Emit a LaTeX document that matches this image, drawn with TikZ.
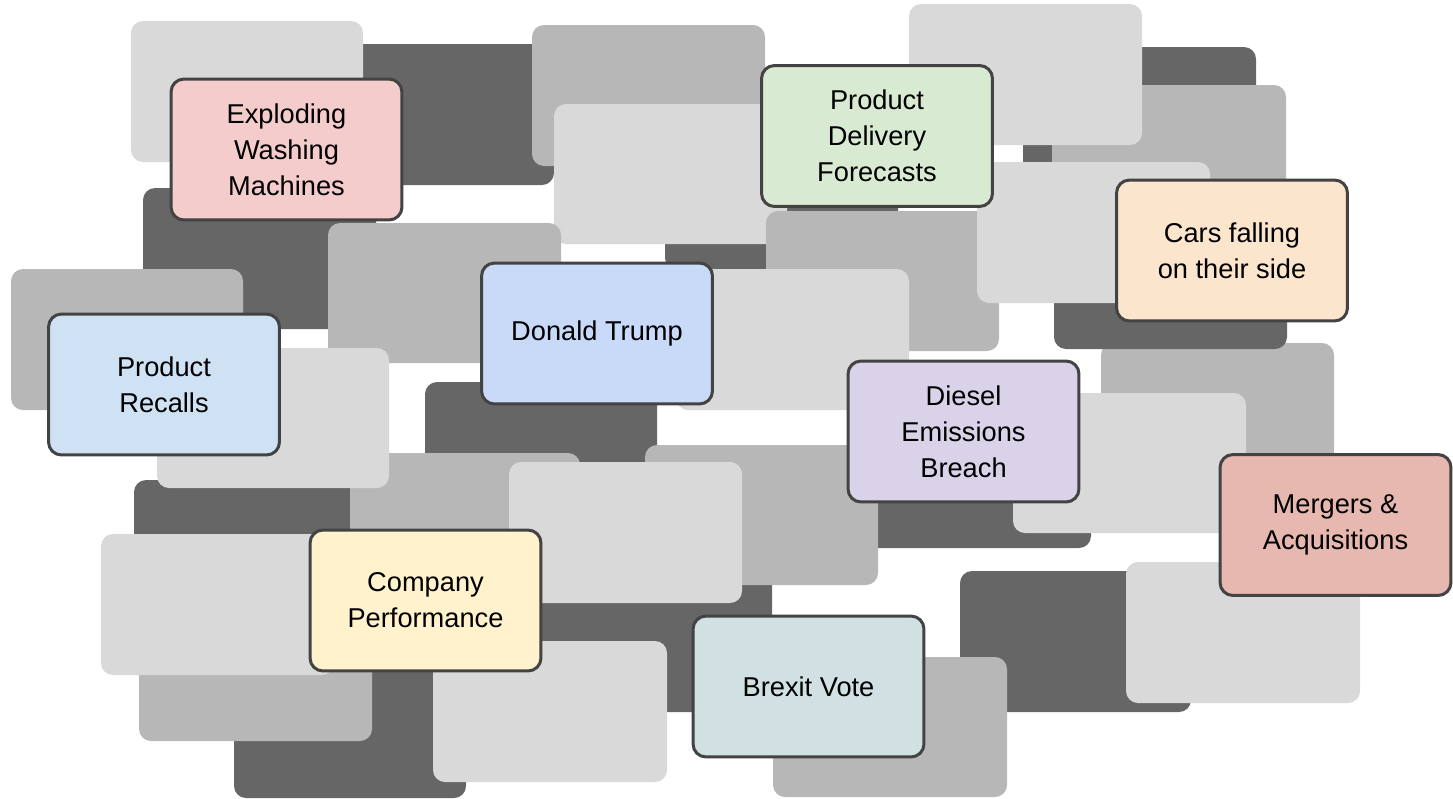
\documentclass[tikz,border=0pt]{standalone}
\usepackage{fontspec}
\setmainfont{Liberation Sans}
\usepackage{tikz}
\usepackage{xcolor}
\usetikzlibrary{positioning}
\definecolor{LightBox}{HTML}{D9D9D9}
\definecolor{MidBox}{HTML}{B7B7B7}
\definecolor{DarkBox}{HTML}{666666}
\definecolor{EdgeGray}{HTML}{434343}
\definecolor{PinkFill}{HTML}{F4CCCC}
\definecolor{GreenFill}{HTML}{D9EAD3}
\definecolor{OrangeFill}{HTML}{FCE5CD}
\definecolor{BlueFill}{HTML}{C9DAF8}
\definecolor{SkyFill}{HTML}{CFE2F3}
\definecolor{PurpleFill}{HTML}{D9D2E9}
\definecolor{RedFill}{HTML}{E6B8AF}
\definecolor{YellowFill}{HTML}{FFF2CC}
\definecolor{TealFill}{HTML}{D0E0E3}

\begin{document}
\begin{tikzpicture}[x=0.02cm, y=-0.02cm,
    lightbox/.style={fill=LightBox, rounded corners=0.24cm},
    midbox/.style={fill=MidBox, rounded corners=0.24cm},
    darkbox/.style={fill=DarkBox, rounded corners=0.24cm},
    topic/.style={draw=EdgeGray, line width=0.06cm, rounded corners=0.26cm,
      minimum width=4.62cm, minimum height=2.82cm, inner sep=0pt,
      align=center, font=\fontsize{15.5}{20.5}\selectfont}]
        \useasboundingbox (0,0) rectangle (1453,798);
        % back layer of grey cards, upper half
        \fill[darkbox] (321,44) rectangle (554,185);
        \fill[lightbox] (131,21) rectangle (363,162);
        \fill[midbox] (532,25) rectangle (765,166);
        \fill[darkbox] (665,129) rectangle (898,270);
        \fill[lightbox] (554,104) rectangle (787,244);
        \fill[midbox] (766,211) rectangle (999,351);
        \fill[lightbox] (676,269) rectangle (909,410);
        \fill[darkbox] (1023,47) rectangle (1256,188);
        \fill[midbox] (1052,85) rectangle (1286,226);
        \fill[lightbox] (909,4) rectangle (1142,145);
        \fill[midbox] (1101,343) rectangle (1334,484);
        \fill[darkbox] (1054,208) rectangle (1287,349);
        \fill[lightbox] (977,162) rectangle (1210,303);
        \fill[darkbox] (858,408) rectangle (1091,548);
        \fill[lightbox] (1013,393) rectangle (1246,533);
        \fill[darkbox] (143,188) rectangle (376,329);
        \fill[midbox] (328,223) rectangle (561,363);
        \fill[midbox] (11,269) rectangle (243,410);
        % lower half
        \fill[darkbox] (425,382) rectangle (657,523);
        \fill[darkbox] (134,480) rectangle (367,620);
        \fill[midbox] (350,453) rectangle (580,593);
        \fill[lightbox] (157,348) rectangle (389,488);
        \fill[darkbox] (539,571) rectangle (772,712);
        \fill[midbox] (645,445) rectangle (878,585);
        \fill[lightbox] (509,462) rectangle (742,603);
        \fill[darkbox] (234,657) rectangle (466,798);
        \fill[midbox] (139,600) rectangle (372,741);
        \fill[lightbox] (101,534) rectangle (334,675);
        \fill[lightbox] (433,641) rectangle (667,782);
        \fill[darkbox] (960,571) rectangle (1191,712);
        \fill[midbox] (773,657) rectangle (1007,797);
        \fill[lightbox] (1126,562) rectangle (1360,703);
        % topics
        \node[topic, fill=PinkFill] (washers) at (286.5,149.5) {Exploding\\Washing\\Machines};
        \node[topic, fill=GreenFill] (delivery) at (877,136) {Product\\Delivery\\Forecasts};
        \node[topic, fill=OrangeFill] (cars) at (1232,250.5) {Cars falling\\on their side};
        \node[topic, fill=BlueFill] (trump) at (597,333.5) {Donald Trump};
        \node[topic, fill=SkyFill] (recalls) at (164,384.5) {Product\\Recalls};
        \node[topic, fill=PurpleFill] (diesel) at (963.5,431.5) {Diesel\\Emissions\\Breach};
        \node[topic, fill=RedFill] (mergers) at (1335.5,525) {Mergers \&\\Acquisitions};
        \node[topic, fill=YellowFill] (company) at (425.5,600.5) {Company\\Performance};
        \node[topic, fill=TealFill] (brexit) at (808.5,686.5) {Brexit Vote};
      \end{tikzpicture}
\end{document}
